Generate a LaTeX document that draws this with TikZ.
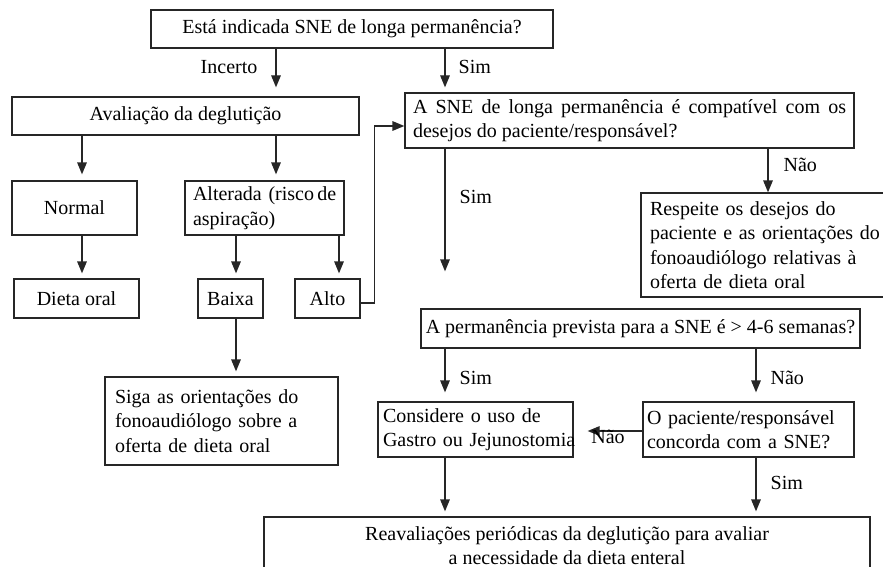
\documentclass[tikz,border=0pt]{standalone}
\usepackage{fontspec}
\setmainfont{Liberation Serif}
\usetikzlibrary{arrows.meta}
\definecolor{traco}{HTML}{262626}
\hyphenpenalty=10000
\exhyphenpenalty=10000
\newcommand\texto{\fontsize{10}{12.2}\selectfont}
% caixa com texto centrado: nome, x1, y1, x2, y2, texto
\newcommand\caixa[6]{\pgfmathsetmacro\qlarg{(#4-#2)*0.5}\pgfmathsetmacro\qalt{(#5-#3)*0.5}%
  \node[quadro,align=center,minimum width=\qlarg pt,minimum height=\qalt pt] (#1)
  at ({(#2+#4)/2},{(#3+#5)/2}) {#6};}
% caixa com texto encostado à esquerda: [alinhamento] nome, x1, y1, x2, y2, margem, texto
\newcommand\caixae[8][left]{\pgfmathsetmacro\qlarg{(#5-#3)*0.5}\pgfmathsetmacro\qalt{(#6-#4)*0.5}%
  \pgfmathsetmacro\qtex{(#5-#3-2*#7)*0.5}\pgfmathsetmacro\qmar{#7*0.5}%
  \node[quadro,align=#1,text width=\qtex pt,inner xsep=\qmar pt,minimum width=\qlarg pt,
    minimum height=\qalt pt] (#2) at ({(#3+#5)/2},{(#4+#6)/2}) {#8};}

\begin{document}
\begin{tikzpicture}[x=0.5pt,y=-0.5pt]
\useasboundingbox (0,0) rectangle (883,567);
\clip (0,0) rectangle (883,567);
\tikzset{quadro/.style={draw=traco,line width=0.65pt,inner sep=0pt,font=\texto},
  seta/.style={traco,line width=0.65pt,-{Triangle[length=6pt,width=4.8pt]},shorten >=2.5pt},
  rotulo/.style={inner sep=0pt,font=\texto,text=black}}

% ---- Pergunta inicial --------------------------------------------------------
\caixa{topo}{151}{10}{553}{48}{Está indicada SNE de longa permanência?}
\caixa{aval}{12}{97}{359}{135}{Avaliação da deglutição}
\caixae[justify]{compat}{405}{93}{854}{148}{8}{A SNE de longa permanência é compatível com os desejos do paciente/responsável?}
\draw[seta,shorten >=4.5pt] (topo.south -| 276,0) -- (aval.north -| 276,0)
  node[rotulo,pos=.39,left=9pt] (rIncerto) {Incerto};
\draw[seta] (topo.south -| 445,0) -- (compat.north -| 445,0)
  node[rotulo,pos=.42,right=6.5pt] (rSim1) {Sim};

% ---- Avaliação da deglutição --------------------------------------------------
\caixa{normal}{12}{181}{137}{235}{Normal}
\caixae{alterada}{185}{181}{344}{235}{8}{\mbox{Alterada (risco\,de}\\aspiração)}
\caixa{dieta}{14}{279}{139}{318}{Dieta oral}
\caixa{baixa}{198}{279}{263}{318}{Baixa}
\caixa{alto}{295}{279}{360}{318}{Alto}
\caixae{siga}{105}{377}{338}{465}{10}{Siga as orientações do\\fonoaudiólogo sobre a\\oferta de dieta oral}
\draw[seta,shorten >=3pt] (aval.south -| 82,0) -- (normal.north -| 82,0);
\draw[seta,shorten >=3pt] (aval.south -| 276,0) -- (alterada.north -| 276,0);
\draw[seta] (normal.south -| 82,0) -- (dieta.north -| 82,0);
\draw[seta] (alterada.south -| 236,0) -- (baixa.north -| 236,0);
\draw[seta] (alterada.south -| 339,0) -- (alto.north -| 339,0);
\draw[seta] (baixa.south -| 236,0) -- (siga.north -| 236,0);
% risco alto volta para a pergunta dos desejos
\draw[seta,shorten >=0pt] (alto.east |- 0,303) -- ++(14,0) |- (compat.west |- 0,126);

% ---- Desejos do paciente ------------------------------------------------------
\caixae{respeite}{641}{193}{900}{297}{9}{Respeite os desejos do\\paciente e as orientações do\\fonoaudiólogo relativas à\\oferta de dieta oral}
\caixa{perm}{421}{309}{860}{348}{A permanência prevista para a SNE é > 4-6 semanas?}
\draw[seta,shorten >=18.5pt] (compat.south -| 445,0) -- (perm.north -| 445,0)
  node[rotulo,pos=.3,right=7pt] (rSim2) {Sim};
\draw[seta,shorten >=0pt] (compat.south -| 768,0) -- (respeite.north -| 768,0)
  node[rotulo,pos=.38,right=7.5pt] (rNao1) {Não};

% ---- Permanência e reavaliação ------------------------------------------------
\caixae{considere}{378}{402}{573}{457}{5}{Considere o uso de\\\mbox{Gastro ou Jejunostomia}}
\caixae{opac}{643}{402}{854}{457}{4}{O paciente/responsável\\concorda com a SNE?}
\caixa{reav}{264}{517}{870}{574}{Reavaliações periódicas da deglutição para avaliar\\a necessidade da dieta enteral}
\draw[seta,shorten >=4.5pt] (perm.south -| 445,0) -- (considere.north -| 445,0)
  node[rotulo,pos=.55,right=7pt] (rSim3) {Sim};
\draw[seta,shorten >=4.5pt] (perm.south -| 756,0) -- (opac.north -| 756,0)
  node[rotulo,pos=.55,right=7pt] (rNao2) {Não};
\draw[seta,shorten >=7pt] (opac.west |- 0,431) -- (considere.east |- 0,431)
  node[rotulo,midway,below=-1pt] (rNao3) {Não};
\draw[seta] (considere.south -| 445,0) -- (reav.north -| 445,0);
\draw[seta] (opac.south -| 756,0) -- (reav.north -| 756,0)
  node[rotulo,pos=.43,right=7pt] (rSim4) {Sim};
\end{tikzpicture}
\end{document}
